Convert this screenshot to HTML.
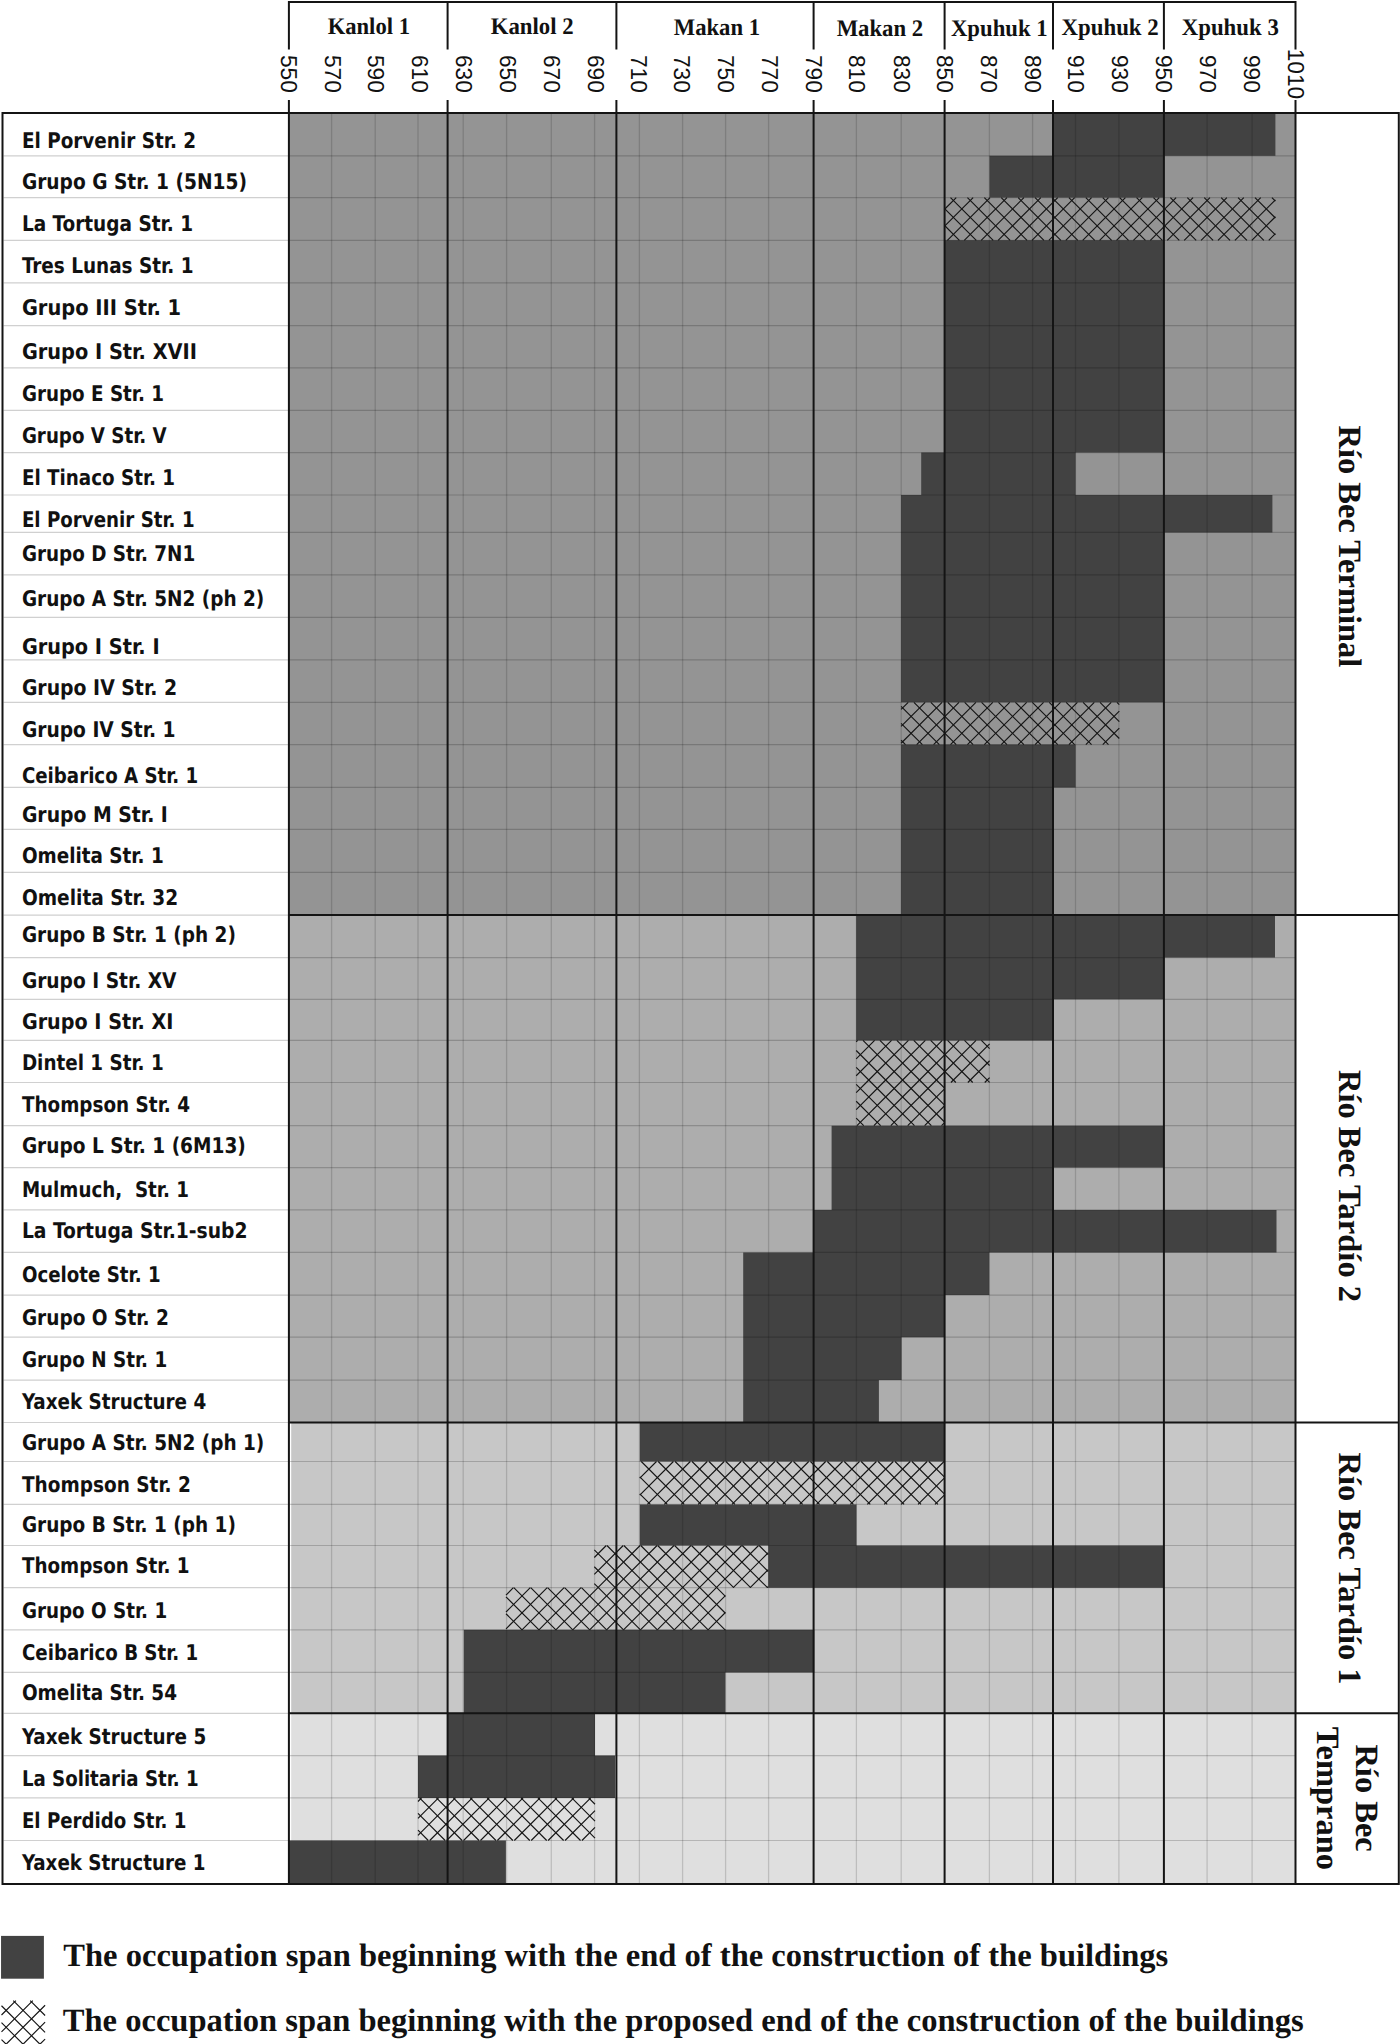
<!DOCTYPE html><html><head><meta charset="utf-8"><title>Río Bec occupation chart</title><style>html,body{margin:0;padding:0;background:#fff}body{width:1400px;height:2044px;overflow:hidden}svg{display:block}</style></head><body>
<svg width="1400" height="2044" viewBox="0 0 1400 2044" text-rendering="geometricPrecision">
<rect width="1400" height="2044" fill="#fff"/>
<rect x="288.9" y="113" width="1006.6" height="802.1" fill="#949494"/>
<rect x="288.9" y="915.1" width="1006.6" height="507.4" fill="#adadad"/>
<rect x="291.2" y="1422.5" width="1004.3" height="290.8" fill="#c7c7c7"/>
<rect x="291.2" y="1713.3" width="1004.3" height="170.7" fill="#dfdfdf"/>
<path d="M1052.8 113H1275.4V155.8H1052.8ZM989.5 155.8H1163.7V197.6H989.5ZM944.6 240.3H1163.7V282.9H944.6ZM944.6 282.9H1163.7V325.6H944.6ZM944.6 325.6H1163.7V367.9H944.6ZM944.6 367.9H1163.7V410.3H944.6ZM944.6 410.3H1163.7V452.6H944.6ZM921.2 452.6H1075.6V495H921.2ZM901.1 495H1272.4V532.4H901.1ZM901.1 532.4H1163.7V574.9H901.1ZM901.1 574.9H1163.7V617.3H901.1ZM901.1 617.3H1163.7V659.8H901.1ZM901.1 659.8H1163.7V702.3H901.1ZM901.1 744.6H1075.6V787.4H901.1ZM901.1 787.4H1052.8V829.3H901.1ZM901.1 829.3H1052.8V872.4H901.1ZM901.1 872.4H1052.8V915.1H901.1ZM856.2 915.1H1275V957.6H856.2ZM856.2 957.6H1163.9V999.3H856.2ZM856.2 999.3H1052.9V1040.4H856.2ZM831.6 1125.7H1163.8V1167.6H831.6ZM831.6 1167.6H1052.7V1209.9H831.6ZM813.6 1209.9H1276.5V1252.4H813.6ZM743.2 1252.4H989.3V1295.1H743.2ZM743.2 1295.1H944.3V1337.2H743.2ZM743.2 1337.2H901.6V1380.1H743.2ZM743.2 1380.1H878.9V1422.5H743.2ZM639.8 1422.5H944.8V1461.5H639.8ZM639.8 1504.4H856.5V1545.5H639.8ZM768.2 1545.5H1163V1587.7H768.2ZM463.8 1629.8H814.2V1672.4H463.8ZM463.8 1672.4H725.4V1713.3H463.8ZM447.4 1713.3H595V1755.6H447.4ZM418 1755.6H615.1V1797.9H418ZM289 1840.5H505.9V1884H289Z" fill="#424242"/>
<path d="M331.6 113V1884M375.2 113V1884M418 113V1884M463.2 113V1884M506.6 113V1884M551.3 113V1884M594.6 113V1884M639.4 113V1884M682.6 113V1884M725.6 113V1884M768.6 113V1884M856.4 113V1884M901.2 113V1884M989.4 113V1884M1032.6 113V1884M1075.5 113V1884M1118.9 113V1884M1207.1 113V1884M1252.1 113V1884" stroke="rgba(0,0,0,0.15)" stroke-width="1.3" fill="none"/>
<path d="M288.9 155.8H1295.5M288.9 197.6H1295.5M288.9 240.3H1295.5M288.9 282.9H1295.5M288.9 325.6H1295.5M288.9 367.9H1295.5M288.9 410.3H1295.5M288.9 452.6H1295.5M288.9 495H1295.5M288.9 532.4H1295.5M288.9 574.9H1295.5M288.9 617.3H1295.5M288.9 659.8H1295.5M288.9 702.3H1295.5M288.9 744.6H1295.5M288.9 787.4H1295.5M288.9 829.3H1295.5M288.9 872.4H1295.5M288.9 915.1H1295.5M288.9 957.6H1295.5M288.9 999.3H1295.5M288.9 1040.4H1295.5M288.9 1082.5H1295.5M288.9 1125.7H1295.5M288.9 1167.6H1295.5M288.9 1209.9H1295.5M288.9 1252.4H1295.5M288.9 1295.1H1295.5M288.9 1337.2H1295.5M288.9 1380.1H1295.5M288.9 1422.5H1295.5M288.9 1461.5H1295.5M288.9 1504.4H1295.5M288.9 1545.5H1295.5M288.9 1587.7H1295.5M288.9 1629.8H1295.5M288.9 1672.4H1295.5M288.9 1713.3H1295.5M288.9 1755.6H1295.5M288.9 1797.9H1295.5M288.9 1840.5H1295.5" stroke="rgba(0,0,0,0.19)" stroke-width="1.2" fill="none"/>
<path d="M944.6 225.52L959.38 240.3M944.6 208.61L976.3 240.3M950.51 197.6L993.21 240.3M967.42 197.6L1010.12 240.3M984.34 197.6L1027.04 240.3M1001.25 197.6L1043.95 240.3M1018.17 197.6L1060.87 240.3M1035.08 197.6L1077.78 240.3M1052 197.6L1094.7 240.3M1068.91 197.6L1111.62 240.3M1085.83 197.6L1128.53 240.3M1102.74 197.6L1145.44 240.3M1119.66 197.6L1162.36 240.3M1136.57 197.6L1179.27 240.3M1153.49 197.6L1196.19 240.3M1170.4 197.6L1213.11 240.3M1187.32 197.6L1230.02 240.3M1204.23 197.6L1246.93 240.3M1221.15 197.6L1263.85 240.3M1238.06 197.6L1275.4 234.94M1254.98 197.6L1275.4 218.02M1271.89 197.6L1275.4 201.11M901.1 740.22L905.49 744.6M901.1 723.3L922.4 744.6M901.1 706.38L939.32 744.6M913.93 702.3L956.23 744.6M930.84 702.3L973.14 744.6M947.76 702.3L990.06 744.6M964.67 702.3L1006.98 744.6M981.59 702.3L1023.89 744.6M998.5 702.3L1040.81 744.6M1015.42 702.3L1057.72 744.6M1032.34 702.3L1074.63 744.6M1049.25 702.3L1091.55 744.6M1066.16 702.3L1108.47 744.6M1083.08 702.3L1119.3 738.52M1099.99 702.3L1119.3 721.61M1116.91 702.3L1119.3 704.69M856.2 1067.45L871.25 1082.5M856.2 1050.53L888.17 1082.5M862.99 1040.4L905.09 1082.5M879.9 1040.4L922 1082.5M896.82 1040.4L938.91 1082.5M913.73 1040.4L955.83 1082.5M930.65 1040.4L972.75 1082.5M947.56 1040.4L989.6 1082.44M964.48 1040.4L989.6 1065.53M981.39 1040.4L989.6 1048.61M856.2 1118.19L863.71 1125.7M856.2 1101.28L880.63 1125.7M856.2 1084.36L897.54 1125.7M871.25 1082.5L914.46 1125.7M888.17 1082.5L931.37 1125.7M905.09 1082.5L944.6 1122.01M922 1082.5L944.6 1105.1M938.91 1082.5L944.6 1088.18M639.8 1493.82L650.39 1504.4M639.8 1476.9L667.3 1504.4M641.31 1461.5L684.22 1504.4M658.23 1461.5L701.13 1504.4M675.15 1461.5L718.05 1504.4M692.06 1461.5L734.96 1504.4M708.98 1461.5L751.88 1504.4M725.89 1461.5L768.79 1504.4M742.8 1461.5L785.71 1504.4M759.72 1461.5L802.62 1504.4M776.64 1461.5L819.54 1504.4M793.55 1461.5L836.45 1504.4M810.47 1461.5L853.37 1504.4M827.38 1461.5L870.28 1504.4M844.29 1461.5L887.2 1504.4M861.21 1461.5L904.11 1504.4M878.13 1461.5L921.03 1504.4M895.04 1461.5L937.94 1504.4M911.96 1461.5L944.8 1494.34M928.87 1461.5L944.8 1477.43M594.3 1583.63L598.37 1587.7M594.3 1566.72L615.28 1587.7M594.3 1549.8L632.2 1587.7M606.91 1545.5L649.11 1587.7M623.83 1545.5L666.03 1587.7M640.74 1545.5L682.94 1587.7M657.66 1545.5L699.86 1587.7M674.57 1545.5L716.77 1587.7M691.49 1545.5L733.69 1587.7M708.4 1545.5L750.6 1587.7M725.31 1545.5L767.51 1587.7M742.23 1545.5L768.2 1571.47M759.15 1545.5L768.2 1554.55M506 1613.74L522.06 1629.8M506 1596.82L538.98 1629.8M513.79 1587.7L555.89 1629.8M530.71 1587.7L572.81 1629.8M547.62 1587.7L589.72 1629.8M564.54 1587.7L606.64 1629.8M581.45 1587.7L623.55 1629.8M598.37 1587.7L640.47 1629.8M615.28 1587.7L657.38 1629.8M632.2 1587.7L674.29 1629.8M649.11 1587.7L691.21 1629.8M666.03 1587.7L708.13 1629.8M682.94 1587.7L725.04 1629.8M699.86 1587.7L725.4 1613.24M716.77 1587.7L725.4 1596.33M418 1830.21L428.29 1840.5M418 1813.3L445.2 1840.5M419.52 1797.9L462.12 1840.5M436.43 1797.9L479.03 1840.5M453.35 1797.9L495.95 1840.5M470.26 1797.9L512.86 1840.5M487.18 1797.9L529.78 1840.5M504.1 1797.9L546.7 1840.5M521.01 1797.9L563.61 1840.5M537.93 1797.9L580.53 1840.5M554.84 1797.9L595 1838.06M571.76 1797.9L595 1821.14M588.67 1797.9L595 1804.23" stroke="#151515" stroke-width="1.15" fill="none"/>
<path d="M956.23 197.6L944.6 209.23M973.14 197.6L944.6 226.14M990.06 197.6L947.36 240.3M1006.97 197.6L964.27 240.3M1023.89 197.6L981.19 240.3M1040.81 197.6L998.11 240.3M1057.72 197.6L1015.02 240.3M1074.63 197.6L1031.93 240.3M1091.55 197.6L1048.85 240.3M1108.46 197.6L1065.76 240.3M1125.38 197.6L1082.68 240.3M1142.3 197.6L1099.6 240.3M1159.21 197.6L1116.51 240.3M1176.12 197.6L1133.42 240.3M1193.04 197.6L1150.34 240.3M1209.95 197.6L1167.25 240.3M1226.87 197.6L1184.17 240.3M1243.79 197.6L1201.09 240.3M1260.7 197.6L1218 240.3M1275.4 199.81L1234.91 240.3M1275.4 216.73L1251.83 240.3M1275.4 233.64L1268.74 240.3M908.23 702.3L901.1 709.43M925.15 702.3L901.1 726.35M942.06 702.3L901.1 743.26M958.98 702.3L916.68 744.6M975.89 702.3L933.59 744.6M992.81 702.3L950.51 744.6M1009.72 702.3L967.42 744.6M1026.64 702.3L984.34 744.6M1043.56 702.3L1001.25 744.6M1060.47 702.3L1018.17 744.6M1077.38 702.3L1035.09 744.6M1094.3 702.3L1052 744.6M1111.21 702.3L1068.91 744.6M1119.3 711.13L1085.83 744.6M1119.3 728.04L1102.74 744.6M857.69 1040.4L856.2 1041.89M874.6 1040.4L856.2 1058.8M891.52 1040.4L856.2 1075.72M908.43 1040.4L866.34 1082.5M925.35 1040.4L883.25 1082.5M942.26 1040.4L900.16 1082.5M959.18 1040.4L917.08 1082.5M976.09 1040.4L933.99 1082.5M989.6 1043.81L950.91 1082.5M989.6 1060.72L967.82 1082.5M989.6 1077.64L984.74 1082.5M866.34 1082.5L856.2 1092.63M883.25 1082.5L856.2 1109.55M900.16 1082.5L856.96 1125.7M917.08 1082.5L873.88 1125.7M933.99 1082.5L890.79 1125.7M944.6 1088.81L907.71 1125.7M944.6 1105.72L924.62 1125.7M944.6 1122.64L941.54 1125.7M656.48 1461.5L639.8 1478.18M673.4 1461.5L639.8 1495.1M690.31 1461.5L647.41 1504.4M707.23 1461.5L664.33 1504.4M724.14 1461.5L681.24 1504.4M741.06 1461.5L698.16 1504.4M757.97 1461.5L715.07 1504.4M774.89 1461.5L731.99 1504.4M791.8 1461.5L748.9 1504.4M808.72 1461.5L765.82 1504.4M825.63 1461.5L782.73 1504.4M842.55 1461.5L799.65 1504.4M859.47 1461.5L816.57 1504.4M876.38 1461.5L833.48 1504.4M893.3 1461.5L850.39 1504.4M910.21 1461.5L867.31 1504.4M927.12 1461.5L884.22 1504.4M944.04 1461.5L901.14 1504.4M944.8 1477.65L918.05 1504.4M944.8 1494.57L934.97 1504.4M606.31 1545.5L594.3 1557.51M623.23 1545.5L594.3 1574.43M640.14 1545.5L597.94 1587.7M657.06 1545.5L614.86 1587.7M673.97 1545.5L631.77 1587.7M690.89 1545.5L648.69 1587.7M707.8 1545.5L665.6 1587.7M724.72 1545.5L682.52 1587.7M741.63 1545.5L699.43 1587.7M758.55 1545.5L716.35 1587.7M768.2 1552.77L733.27 1587.7M768.2 1569.68L750.18 1587.7M768.2 1586.6L767.1 1587.7M513.37 1587.7L506 1595.07M530.28 1587.7L506 1611.98M547.2 1587.7L506 1628.9M564.11 1587.7L522.01 1629.8M581.03 1587.7L538.93 1629.8M597.94 1587.7L555.85 1629.8M614.86 1587.7L572.76 1629.8M631.77 1587.7L589.67 1629.8M648.69 1587.7L606.59 1629.8M665.6 1587.7L623.5 1629.8M682.52 1587.7L640.42 1629.8M699.43 1587.7L657.33 1629.8M716.35 1587.7L674.25 1629.8M725.4 1595.57L691.17 1629.8M725.4 1612.48L708.08 1629.8M725.4 1629.39L725 1629.8M421.57 1797.9L418 1801.47M438.49 1797.9L418 1818.39M455.4 1797.9L418 1835.3M472.32 1797.9L429.72 1840.5M489.23 1797.9L446.63 1840.5M506.15 1797.9L463.55 1840.5M523.07 1797.9L480.47 1840.5M539.98 1797.9L497.38 1840.5M556.89 1797.9L514.3 1840.5M573.81 1797.9L531.21 1840.5M590.72 1797.9L548.12 1840.5M595 1810.54L565.04 1840.5M595 1827.45L581.95 1840.5" stroke="#151515" stroke-width="1.15" fill="none"/>
<path d="M3.5 155.8H288.9M3.5 197.6H288.9M3.5 240.3H288.9M3.5 282.9H288.9M3.5 325.6H288.9M3.5 367.9H288.9M3.5 410.3H288.9M3.5 452.6H288.9M3.5 495H288.9M3.5 532.4H288.9M3.5 574.9H288.9M3.5 617.3H288.9M3.5 659.8H288.9M3.5 702.3H288.9M3.5 744.6H288.9M3.5 787.4H288.9M3.5 829.3H288.9M3.5 872.4H288.9M3.5 915.1H288.9M3.5 957.6H288.9M3.5 999.3H288.9M3.5 1040.4H288.9M3.5 1082.5H288.9M3.5 1125.7H288.9M3.5 1167.6H288.9M3.5 1209.9H288.9M3.5 1252.4H288.9M3.5 1295.1H288.9M3.5 1337.2H288.9M3.5 1380.1H288.9M3.5 1422.5H288.9M3.5 1461.5H288.9M3.5 1504.4H288.9M3.5 1545.5H288.9M3.5 1587.7H288.9M3.5 1629.8H288.9M3.5 1672.4H288.9M3.5 1713.3H288.9M3.5 1755.6H288.9M3.5 1797.9H288.9M3.5 1840.5H288.9" stroke="#d0d0d0" stroke-width="1.2" fill="none"/>
<path d="M288.9 113V1884M288.9 1V49.5M288.9 100V113M447.6 113V1884M447.6 1V49.5M447.6 100V113M616.4 113V1884M616.4 1V49.5M616.4 100V113M813.6 113V1884M813.6 1V49.5M813.6 100V113M944.6 113V1884M944.6 1V49.5M944.6 100V113M1053 113V1884M1053 1V49.5M1053 100V113M1163.9 113V1884M1163.9 1V49.5M1163.9 100V113M1295.5 113V1884M1295.5 1V49.5M1295.5 100V113M288.9 1.9H1295.5M288.9 915.1H1398.8M288.9 1422.5H1398.8M288.9 1713.3H1398.8M2.5 113H1398.8V1884H2.5Z" stroke="#141414" stroke-width="2" fill="none"/>
<g font-family="'Liberation Serif', serif" font-weight="bold" font-size="23.8" fill="#111">
<text x="327.65" y="33.8" textLength="82.31" lengthAdjust="spacingAndGlyphs">Kanlol 1</text>
<text x="490.74" y="33.6" textLength="82.87" lengthAdjust="spacingAndGlyphs">Kanlol 2</text>
<text x="673.75" y="34.5" textLength="86.22" lengthAdjust="spacingAndGlyphs">Makan 1</text>
<text x="836.64" y="35.8" textLength="86.57" lengthAdjust="spacingAndGlyphs">Makan 2</text>
<text x="950.94" y="35.6" textLength="96.72" lengthAdjust="spacingAndGlyphs">Xpuhuk 1</text>
<text x="1061.54" y="35.0" textLength="97.17" lengthAdjust="spacingAndGlyphs">Xpuhuk 2</text>
<text x="1181.74" y="35.0" textLength="97.07" lengthAdjust="spacingAndGlyphs">Xpuhuk 3</text>
</g>
<g font-family="'Liberation Sans', sans-serif" font-size="23" fill="#111" text-anchor="middle">
<text transform="translate(281 73.9) rotate(90) scale(0.985 1)">550</text>
<text transform="translate(324.65 73.9) rotate(90) scale(0.985 1)">570</text>
<text transform="translate(368.45 73.9) rotate(90) scale(0.985 1)">590</text>
<text transform="translate(412.4 73.9) rotate(90) scale(0.985 1)">610</text>
<text transform="translate(455.9 73.9) rotate(90) scale(0.985 1)">630</text>
<text transform="translate(499.95 73.9) rotate(90) scale(0.985 1)">650</text>
<text transform="translate(543.9 73.9) rotate(90) scale(0.985 1)">670</text>
<text transform="translate(587.85 73.9) rotate(90) scale(0.985 1)">690</text>
<text transform="translate(630.5 73.9) rotate(90) scale(0.985 1)">710</text>
<text transform="translate(674.4 73.9) rotate(90) scale(0.985 1)">730</text>
<text transform="translate(718.15 73.9) rotate(90) scale(0.985 1)">750</text>
<text transform="translate(762 73.9) rotate(90) scale(0.985 1)">770</text>
<text transform="translate(805.9 73.9) rotate(90) scale(0.985 1)">790</text>
<text transform="translate(849.4 73.9) rotate(90) scale(0.985 1)">810</text>
<text transform="translate(893.5 73.9) rotate(90) scale(0.985 1)">830</text>
<text transform="translate(937.35 73.9) rotate(90) scale(0.985 1)">850</text>
<text transform="translate(981 73.9) rotate(90) scale(0.985 1)">870</text>
<text transform="translate(1024.95 73.9) rotate(90) scale(0.985 1)">890</text>
<text transform="translate(1068.15 73.9) rotate(90) scale(0.985 1)">910</text>
<text transform="translate(1112.4 73.9) rotate(90) scale(0.985 1)">930</text>
<text transform="translate(1156.2 73.9) rotate(90) scale(0.985 1)">950</text>
<text transform="translate(1200.05 73.9) rotate(90) scale(0.985 1)">970</text>
<text transform="translate(1244.05 73.9) rotate(90) scale(0.985 1)">990</text>
<text transform="translate(1287.95 73.9) rotate(90) scale(0.985 1)">1010</text>
</g>
<g font-family="'DejaVu Sans Condensed', 'DejaVu Sans', sans-serif" font-stretch="condensed" font-weight="bold" font-size="21.6" fill="#111">
<text x="21.9" y="147.9" textLength="174.24" lengthAdjust="spacingAndGlyphs" xml:space="preserve">El Porvenir Str. 2</text>
<text x="21.9" y="189.3" textLength="225.04" lengthAdjust="spacingAndGlyphs" xml:space="preserve">Grupo G Str. 1 (5N15)</text>
<text x="21.9" y="230.7" textLength="171.19" lengthAdjust="spacingAndGlyphs" xml:space="preserve">La Tortuga Str. 1</text>
<text x="21.9" y="273.2" textLength="171.59" lengthAdjust="spacingAndGlyphs" xml:space="preserve">Tres Lunas Str. 1</text>
<text x="21.9" y="315" textLength="159.22" lengthAdjust="spacingAndGlyphs" xml:space="preserve">Grupo III Str. 1</text>
<text x="21.9" y="359.3" textLength="175.02" lengthAdjust="spacingAndGlyphs" xml:space="preserve">Grupo I Str. XVII</text>
<text x="21.9" y="401.4" textLength="142.19" lengthAdjust="spacingAndGlyphs" xml:space="preserve">Grupo E Str. 1</text>
<text x="21.9" y="443.2" textLength="144.83" lengthAdjust="spacingAndGlyphs" xml:space="preserve">Grupo V Str. V</text>
<text x="21.9" y="485.3" textLength="153.19" lengthAdjust="spacingAndGlyphs" xml:space="preserve">El Tinaco Str. 1</text>
<text x="21.9" y="527.1" textLength="172.69" lengthAdjust="spacingAndGlyphs" xml:space="preserve">El Porvenir Str. 1</text>
<text x="21.9" y="561.3" textLength="173.29" lengthAdjust="spacingAndGlyphs" xml:space="preserve">Grupo D Str. 7N1</text>
<text x="21.9" y="606.2" textLength="242.43" lengthAdjust="spacingAndGlyphs" xml:space="preserve">Grupo A Str. 5N2 (ph 2)</text>
<text x="21.9" y="653.8" textLength="137.72" lengthAdjust="spacingAndGlyphs" xml:space="preserve">Grupo I Str. I</text>
<text x="21.9" y="694.6" textLength="155.17" lengthAdjust="spacingAndGlyphs" xml:space="preserve">Grupo IV Str. 2</text>
<text x="21.9" y="737.3" textLength="153.6" lengthAdjust="spacingAndGlyphs" xml:space="preserve">Grupo IV Str. 1</text>
<text x="21.9" y="783.1" textLength="176.38" lengthAdjust="spacingAndGlyphs" xml:space="preserve">Ceibarico A Str. 1</text>
<text x="21.9" y="821.8" textLength="145.98" lengthAdjust="spacingAndGlyphs" xml:space="preserve">Grupo M Str. I</text>
<text x="21.9" y="863.2" textLength="141.79" lengthAdjust="spacingAndGlyphs" xml:space="preserve">Omelita Str. 1</text>
<text x="21.9" y="905.3" textLength="156.25" lengthAdjust="spacingAndGlyphs" xml:space="preserve">Omelita Str. 32</text>
<text x="21.9" y="941.9" textLength="214.04" lengthAdjust="spacingAndGlyphs" xml:space="preserve">Grupo B Str. 1 (ph 2)</text>
<text x="21.9" y="987.5" textLength="154.63" lengthAdjust="spacingAndGlyphs" xml:space="preserve">Grupo I Str. XV</text>
<text x="21.9" y="1028.9" textLength="151.61" lengthAdjust="spacingAndGlyphs" xml:space="preserve">Grupo I Str. XI</text>
<text x="21.9" y="1070.3" textLength="141.79" lengthAdjust="spacingAndGlyphs" xml:space="preserve">Dintel 1 Str. 1</text>
<text x="21.9" y="1112.2" textLength="168.09" lengthAdjust="spacingAndGlyphs" xml:space="preserve">Thompson Str. 4</text>
<text x="21.9" y="1152.6" textLength="223.94" lengthAdjust="spacingAndGlyphs" xml:space="preserve">Grupo L Str. 1 (6M13)</text>
<text x="21.9" y="1196.8" textLength="167.09" lengthAdjust="spacingAndGlyphs" xml:space="preserve">Mulmuch,&#160; Str. 1</text>
<text x="21.9" y="1238.3" textLength="225.66" lengthAdjust="spacingAndGlyphs" xml:space="preserve">La Tortuga Str.1-sub2</text>
<text x="21.9" y="1281.8" textLength="138.69" lengthAdjust="spacingAndGlyphs" xml:space="preserve">Ocelote Str. 1</text>
<text x="21.9" y="1325.3" textLength="146.95" lengthAdjust="spacingAndGlyphs" xml:space="preserve">Grupo O Str. 2</text>
<text x="21.9" y="1366.7" textLength="145.29" lengthAdjust="spacingAndGlyphs" xml:space="preserve">Grupo N Str. 1</text>
<text x="21.9" y="1408.5" textLength="184.29" lengthAdjust="spacingAndGlyphs" xml:space="preserve">Yaxek Structure 4</text>
<text x="21.9" y="1449.9" textLength="242.43" lengthAdjust="spacingAndGlyphs" xml:space="preserve">Grupo A Str. 5N2 (ph 1)</text>
<text x="21.9" y="1491.8" textLength="169.04" lengthAdjust="spacingAndGlyphs" xml:space="preserve">Thompson Str. 2</text>
<text x="21.9" y="1532.2" textLength="214.04" lengthAdjust="spacingAndGlyphs" xml:space="preserve">Grupo B Str. 1 (ph 1)</text>
<text x="21.9" y="1573.2" textLength="167.69" lengthAdjust="spacingAndGlyphs" xml:space="preserve">Thompson Str. 1</text>
<text x="21.9" y="1618.3" textLength="145.29" lengthAdjust="spacingAndGlyphs" xml:space="preserve">Grupo O Str. 1</text>
<text x="21.9" y="1659.7" textLength="176.39" lengthAdjust="spacingAndGlyphs" xml:space="preserve">Ceibarico B Str. 1</text>
<text x="21.9" y="1699.7" textLength="155.09" lengthAdjust="spacingAndGlyphs" xml:space="preserve">Omelita Str. 54</text>
<text x="21.9" y="1743.8" textLength="184.29" lengthAdjust="spacingAndGlyphs" xml:space="preserve">Yaxek Structure 5</text>
<text x="21.9" y="1785.7" textLength="176.78" lengthAdjust="spacingAndGlyphs" xml:space="preserve">La Solitaria Str. 1</text>
<text x="21.9" y="1828.3" textLength="164.58" lengthAdjust="spacingAndGlyphs" xml:space="preserve">El Perdido Str. 1</text>
<text x="21.9" y="1869.7" textLength="183.59" lengthAdjust="spacingAndGlyphs" xml:space="preserve">Yaxek Structure 1</text>
</g>
<g font-family="'Liberation Serif', serif" font-weight="bold" font-size="32.5" fill="#111" text-anchor="middle">
<text transform="translate(1339.2 546.4) rotate(90)">Río Bec Terminal</text>
<text transform="translate(1339.3 1186) rotate(90)">Río Bec Tardío 2</text>
<text transform="translate(1339.3 1568.6) rotate(90)">Río Bec Tardío 1</text>
<text transform="translate(1356 1798.1) rotate(90)">Río Bec</text>
<text transform="translate(1317.4 1798.4) rotate(90)">Temprano</text>
</g>
<rect x="1.05" y="1935.9" width="42.85" height="42.8" fill="#424242"/>
<path d="M1.5 2039.57L5.93 2044M1.5 2022.65L22.85 2044M1.5 2005.74L39.76 2044M13.28 2000.6L45.1 2032.42M30.19 2000.6L45.1 2015.51" stroke="#151515" stroke-width="1.15" fill="none"/>
<path d="M15.89 2000.6L1.5 2014.99M32.81 2000.6L1.5 2031.91M45.1 2005.22L6.32 2044M45.1 2022.14L23.24 2044M45.1 2039.05L40.15 2044" stroke="#151515" stroke-width="1.15" fill="none"/>
<g font-family="'Liberation Serif', serif" font-weight="bold" font-size="32.55" fill="#111">
<text x="63.3" y="1966">The occupation span beginning with the end of the construction of the buildings</text>
<text x="62.8" y="2031.4">The occupation span beginning with the proposed end of the construction of the buildings</text>
</g>
</svg></body></html>
